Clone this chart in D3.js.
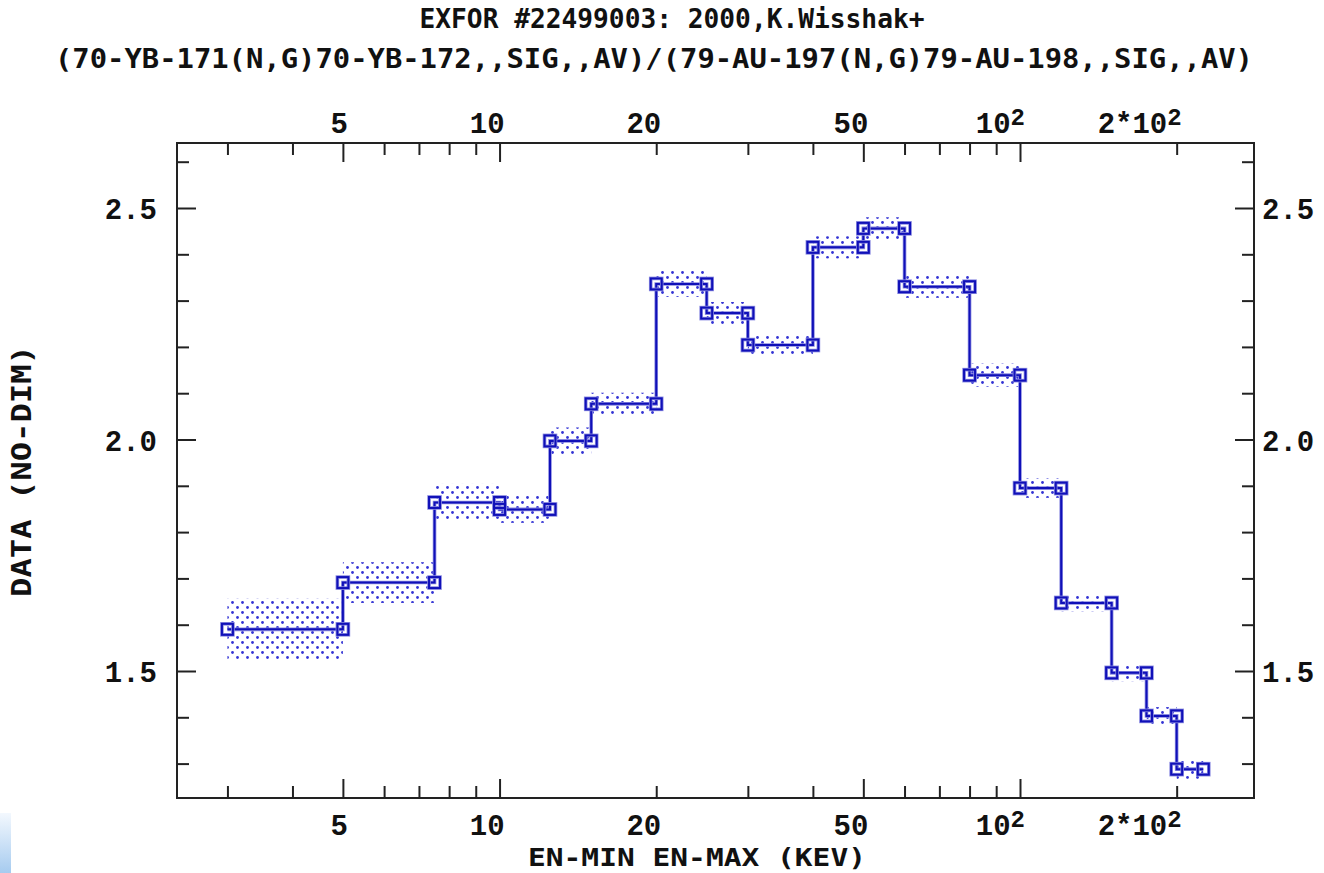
<!DOCTYPE html>
<html><head><meta charset="utf-8">
<script src="https://cdn.jsdelivr.net/npm/d3@7"></script>
<style>body{margin:0;background:#fff;overflow:hidden}svg{display:block}</style>
</head><body><svg id="c" width="1324" height="873"></svg>
<script>
// ---- data ----
const enMin  = [3, 5, 7.5, 10, 12.5, 15, 20, 25, 30, 40, 50, 60, 80, 100, 120, 150, 175, 200];
const enMax  = [5, 7.5, 10, 12.5, 15, 20, 25, 30, 40, 50, 60, 80, 100, 120, 150, 175, 200, 225];
const values = [1.590, 1.691, 1.864, 1.849, 1.997, 2.077, 2.336, 2.273, 2.204, 2.415, 2.456, 2.330, 2.139, 1.895, 1.647, 1.496, 1.403, 1.288];
const errors = [0.066, 0.044, 0.040, 0.029, 0.029, 0.024, 0.028, 0.024, 0.023, 0.024, 0.024, 0.024, 0.025, 0.021, 0.018, 0.018, 0.019, 0.021];
const xLabelValues = [5, 10, 20, 50, 100, 200];
const xLabelTexts  = ["5", "10", "20", "50", "10^2", "2*10^2"];
const xMajorTicks  = [5, 10, 50, 100];
const xMinorTicks  = [3, 4, 6, 7, 8, 9, 20, 30, 40, 60, 70, 80, 90, 200];
const yLabelValues = [1.5, 2.0, 2.5];
const yLabelTexts  = ["1.5", "2.0", "2.5"];
const yMinorTicks  = [1.3, 1.4, 1.6, 1.7, 1.8, 1.9, 2.1, 2.2, 2.3, 2.4, 2.6];
const titleLines = ["EXFOR #22499003: 2000,K.Wisshak+",
                    "(70-YB-171(N,G)70-YB-172,,SIG,,AV)/(79-AU-197(N,G)79-AU-198,,SIG,,AV)"];
const xTitle = "EN-MIN EN-MAX (KEV)";
const yTitle = "DATA (NO-DIM)";

// ---- layout ----
const L = 177, R = 1254, T = 143, B = 798;
const svg = d3.select("#c");
const x = d3.scaleLog().domain([2.40, 281.6]).range([L, R]);
const y = d3.scaleLinear().domain([1.2257, 2.6404]).range([B, T]);
const blue = "#1010b8";
const mono = "'Liberation Mono', 'DejaVu Sans Mono', monospace";

// corner gradient artifact
const defs = svg.append("defs");
const g = defs.append("linearGradient").attr("id","cg").attr("x1",0).attr("y1",0).attr("x2",0).attr("y2",1);
g.append("stop").attr("offset","0").attr("stop-color","#f3f8fe");
g.append("stop").attr("offset","1").attr("stop-color","#a6cbef");
svg.append("rect").attr("x",0).attr("y",813).attr("width",11).attr("height",60).attr("fill","url(#cg)");

// dotted pattern for error bands
const pat = defs.append("pattern").attr("id","dots").attr("patternUnits","userSpaceOnUse")
  .attr("width",10).attr("height",10);
pat.append("circle").attr("cx",2.5).attr("cy",2.5).attr("r",1.4).attr("fill","#3434d4");
pat.append("circle").attr("cx",7.5).attr("cy",7.5).attr("r",1.4).attr("fill","#3434d4");

// error bands
svg.append("g").selectAll("rect").data(values).join("rect")
  .attr("x",(d,i)=>x(enMin[i])).attr("width",(d,i)=>x(enMax[i])-x(enMin[i]))
  .attr("y",(d,i)=>y(d+errors[i])).attr("height",(d,i)=>y(d-errors[i])-y(d+errors[i]))
  .attr("fill","url(#dots)");

// step line
const pts = [];
values.forEach((v,i)=>{ pts.push([enMin[i],v]); pts.push([enMax[i],v]); });
svg.append("path").datum(pts)
  .attr("d", d3.line().x(d=>x(d[0])).y(d=>y(d[1])))
  .attr("fill","none").attr("stroke","#8a8ae0").attr("stroke-width",3.6);
svg.append("path").datum(pts)
  .attr("d", d3.line().x(d=>x(d[0])).y(d=>y(d[1])))
  .attr("fill","none").attr("stroke",blue).attr("stroke-width",2);

// squares
const sq = svg.append("g");
sq.selectAll("rect.h").data(pts).join("rect").attr("class","h")
  .attr("x",d=>x(d[0])-5.5).attr("y",d=>y(d[1])-5.5).attr("width",11).attr("height",11)
  .attr("fill","none").attr("stroke","#8a8ae0").attr("stroke-width",3.6);
sq.selectAll("rect.s").data(pts).join("rect").attr("class","s")
  .attr("x",d=>x(d[0])-5.5).attr("y",d=>y(d[1])-5.5).attr("width",11).attr("height",11)
  .attr("fill","none").attr("stroke",blue).attr("stroke-width",2);

// frame
svg.append("rect").attr("x",L).attr("y",T).attr("width",R-L).attr("height",B-T)
  .attr("fill","none").attr("stroke","#222").attr("stroke-width",2);

// ticks via axes
function axisTicks(axisFn, scale, vals, size, transform){
  const a = svg.append("g").attr("transform",transform)
    .call(axisFn(scale).tickValues(vals).tickSize(size).tickFormat(""));
  a.select(".domain").remove();
  a.selectAll("line").attr("stroke","#222").attr("stroke-width",2);
}
axisTicks(d3.axisBottom, x, xMajorTicks, -19, `translate(0,${B})`);
axisTicks(d3.axisBottom, x, xMinorTicks, -12, `translate(0,${B})`);
axisTicks(d3.axisTop, x, xMajorTicks, -19, `translate(0,${T})`);
axisTicks(d3.axisTop, x, xMinorTicks, -12, `translate(0,${T})`);
axisTicks(d3.axisLeft, y, yLabelValues, -19, `translate(${L},0)`);
axisTicks(d3.axisLeft, y, yMinorTicks, -12, `translate(${L},0)`);
axisTicks(d3.axisRight, y, yLabelValues, -19, `translate(${R},0)`);
axisTicks(d3.axisRight, y, yMinorTicks, -12, `translate(${R},0)`);

// x tick labels (top and bottom)
function xLabel(yBase){
  xLabelValues.forEach((v,i)=>{
    const t = svg.append("text").attr("x", x(v)+5).attr("y", yBase)
      .attr("text-anchor","end").attr("font-family",mono).attr("font-weight","bold")
      .attr("font-size",29).attr("fill","#111");
    const parts = xLabelTexts[i].split("^");
    if(parts.length===2){
      t.append("tspan").text(parts[0]);
      t.append("tspan").attr("font-size",24).attr("dy",-8).text(parts[1]);
    } else t.text(parts[0]);
  });
}
xLabel(133);
xLabel(835);

// y tick labels
yLabelValues.forEach((v,i)=>{
  svg.append("text").attr("x",157).attr("y",y(v)+11).attr("text-anchor","end")
    .attr("font-family",mono).attr("font-weight","bold").attr("font-size",29).attr("fill","#111")
    .text(yLabelTexts[i]);
  svg.append("text").attr("x",1262).attr("y",y(v)+11).attr("text-anchor","start")
    .attr("font-family",mono).attr("font-weight","bold").attr("font-size",29).attr("fill","#111")
    .text(yLabelTexts[i]);
});

// titles
const tfont = "'DejaVu Sans Mono', 'Liberation Mono', monospace";
svg.append("text").attr("x",672).attr("y",28).attr("text-anchor","middle")
  .attr("font-family",tfont).attr("font-weight","bold").attr("font-size",26).attr("fill","#111")
  .attr("textLength",505).attr("lengthAdjust","spacingAndGlyphs").text(titleLines[0]);
svg.append("text").attr("x",654).attr("y",68).attr("text-anchor","middle")
  .attr("font-family",tfont).attr("font-weight","bold").attr("font-size",26).attr("fill","#111")
  .attr("textLength",1198).attr("lengthAdjust","spacingAndGlyphs").text(titleLines[1]);

// axis titles
svg.append("text").attr("x",697).attr("y",866).attr("text-anchor","middle")
  .attr("font-family",tfont).attr("font-weight","bold").attr("font-size",25).attr("fill","#111")
  .attr("textLength",338).attr("lengthAdjust","spacingAndGlyphs").text(xTitle);
svg.append("text").attr("transform","translate(31,471) rotate(-90)").attr("text-anchor","middle")
  .attr("font-family",tfont).attr("font-weight","bold").attr("font-size",26).attr("fill","#111")
  .attr("textLength",252).attr("lengthAdjust","spacingAndGlyphs").text(yTitle);
</script></body></html>
